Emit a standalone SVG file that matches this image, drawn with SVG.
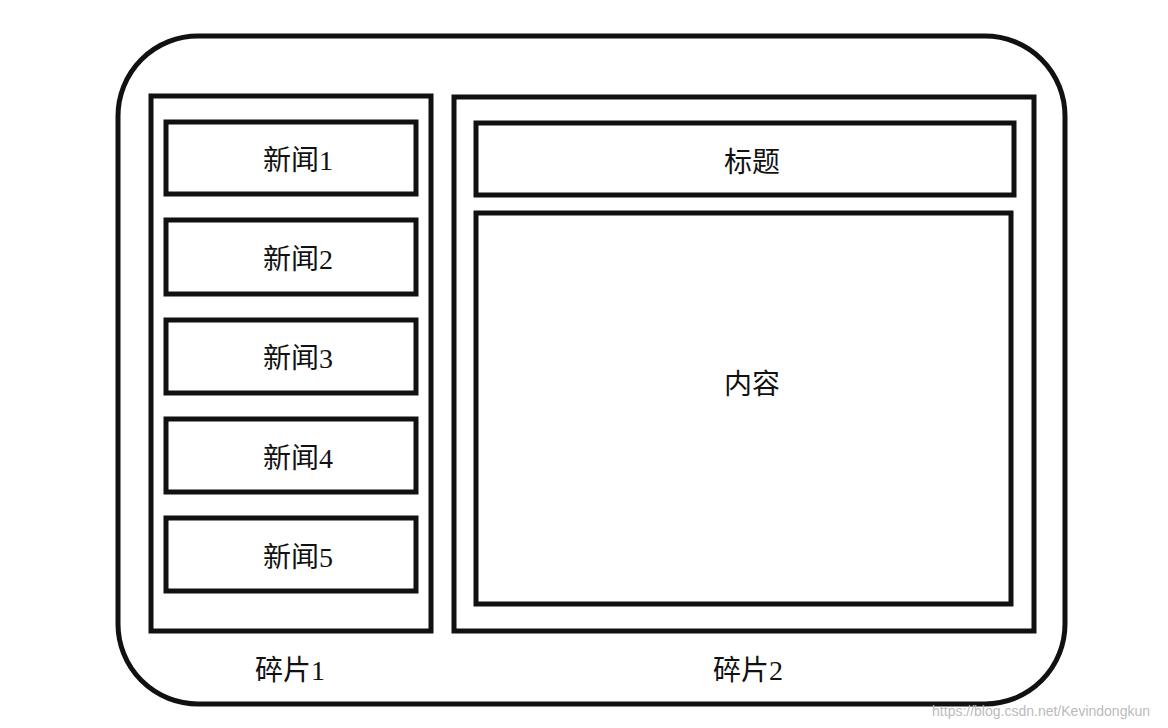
<svg xmlns="http://www.w3.org/2000/svg" width="1168" height="728" viewBox="0 0 1168 728">
<style>
.b{fill:none;stroke:#111;stroke-width:5}
.t{font-family:"Liberation Serif","Noto Sans CJK SC",serif;font-size:28px;fill:#111;text-anchor:middle}
</style>
<rect width="1168" height="728" fill="#fff"/>
<g id="outer"><rect class="b" x="118" y="36" width="947" height="668" rx="80"/></g>
<g id="frag1"><rect class="b" x="151" y="96" width="280" height="535"/><text class="t" x="290" y="680">碎片1</text></g>
<g id="n1"><rect class="b" x="166" y="122" width="250" height="72"/><text class="t" x="298" y="170">新闻1</text></g>
<g id="n2"><rect class="b" x="166" y="220" width="250" height="74"/><text class="t" x="298" y="269">新闻2</text></g>
<g id="n3"><rect class="b" x="166" y="320" width="250" height="73"/><text class="t" x="298" y="368">新闻3</text></g>
<g id="n4"><rect class="b" x="166" y="419" width="250" height="73"/><text class="t" x="298" y="468">新闻4</text></g>
<g id="n5"><rect class="b" x="166" y="518" width="250" height="73"/><text class="t" x="298" y="567">新闻5</text></g>
<g id="frag2"><rect class="b" x="454" y="97" width="580" height="534"/><text class="t" x="748" y="680">碎片2</text></g>
<g id="title"><rect class="b" x="476" y="123" width="538" height="72"/><text class="t" x="752" y="172">标题</text></g>
<g id="content"><rect class="b" x="476" y="213" width="535" height="391"/><text class="t" x="752" y="394">内容</text></g>
<g id="connectors"/>
<text x="1150" y="716" font-family="Liberation Sans,sans-serif" font-size="14" fill="#bbb" text-anchor="end">https://blog.csdn.net/Kevindongkun</text>
</svg>
